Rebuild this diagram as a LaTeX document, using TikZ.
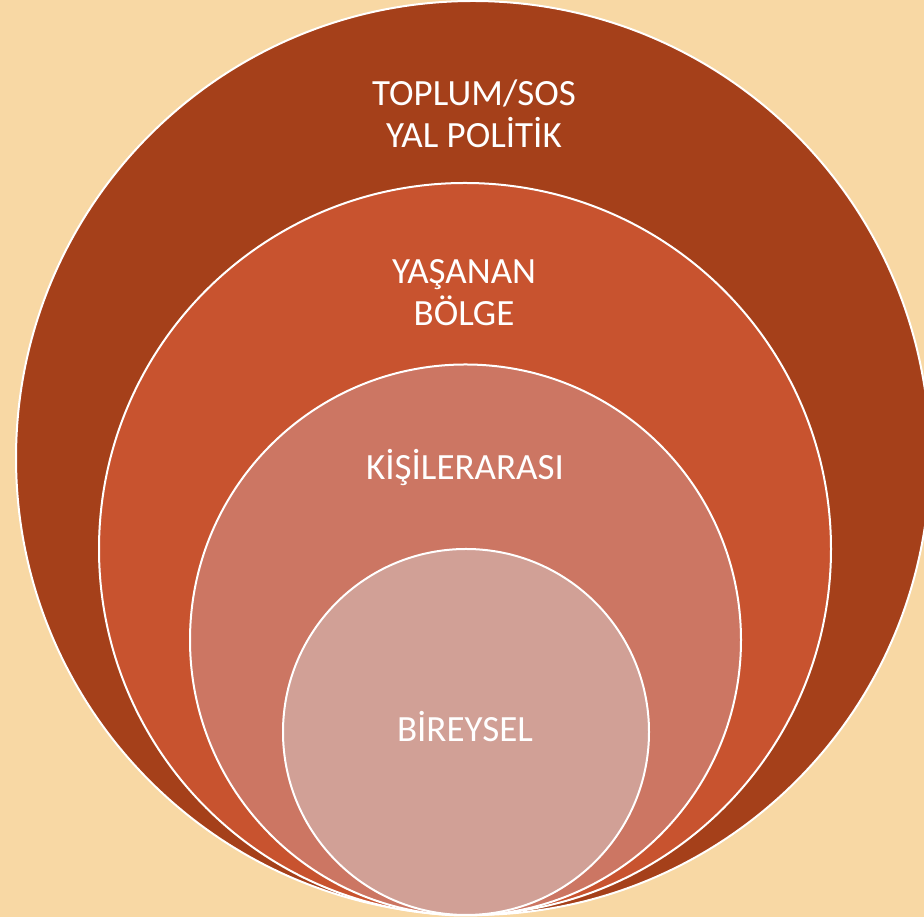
\documentclass[tikz,border=0pt]{standalone}
\usepackage{fontspec}
\setmainfont{Carlito}
\definecolor{bg}{HTML}{F8D8A4}
\definecolor{c1}{HTML}{A5401A}
\definecolor{c2}{HTML}{C8532F}
\definecolor{c3}{HTML}{CC7663}
\definecolor{c4}{HTML}{D1A096}
\begin{document}
\begin{tikzpicture}[x=1pt,y=1pt,
  ring/.style={draw=white,line width=2pt},
  lbl/.style={text=white,font=\fontsize{37}{42}\selectfont,align=center,inner sep=0pt}]
\useasboundingbox (0,0) rectangle (924,917);
\fill[bg] (0,0) rectangle (924,917);
\begin{scope}
\clip (0,0) rectangle (924,917);
\filldraw[ring,fill=c1] (473,459) circle (457);
\filldraw[ring,fill=c2] (465,368) circle (366);
\filldraw[ring,fill=c3] (465.5,277) circle (275.5);
\filldraw[ring,fill=c4] (466,185) circle (183);
\end{scope}
\node[lbl] (t1) at (474,803) {TOPLUM/SOS\\YAL POLİTİK};
\node[lbl] (t2) at (464,624) {YAŞANAN\\BÖLGE};
\node[lbl,anchor=base] (t3) at (465,437) {KİŞİLERARASI};
\node[lbl,anchor=base] (t4) at (465,175) {BİREYSEL};
\end{tikzpicture}
\end{document}
